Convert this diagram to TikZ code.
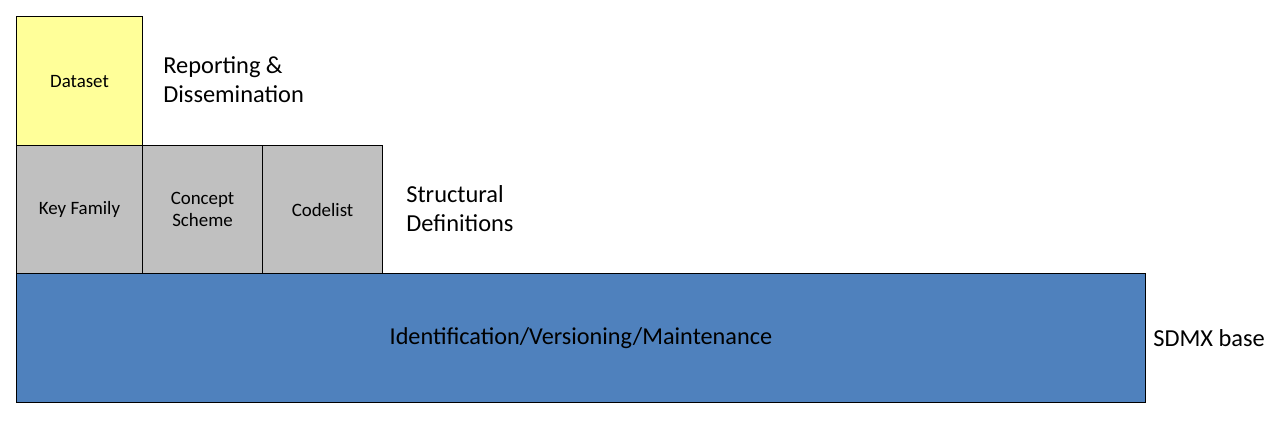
\documentclass[tikz,border=0pt]{standalone}
\usepackage{fontspec}
\setmainfont{Carlito}
\usetikzlibrary{positioning}
\definecolor{dsyellow}{HTML}{FFFF99}
\definecolor{defgray}{HTML}{C0C0C0}
\definecolor{baseblue}{HTML}{4F81BD}

\begin{document}
\begin{tikzpicture}[x=0.02cm, y=-0.02cm,
  box/.style={draw=black, line width=0.6pt, inner sep=0pt, anchor=north west,
    align=center, font=\fontsize{10.75}{12.7}\selectfont},
  layer/.style={anchor=west, align=left, inner sep=0pt,
    font=\fontsize{13.9}{16.4}\selectfont}]
  \useasboundingbox (0,0) rectangle (1277,424);
  %%%%% START %%%%%
  \node[box, fill=baseblue, minimum width=22.58cm, minimum height=2.58cm,
    font=\fontsize{13.8}{16}\selectfont] (base) at (16,273) {Identification/Versioning/Maintenance};

  \node[box, fill=defgray, minimum width=2.52cm, minimum height=2.56cm] (keyfam) at (16,145) {Key Family};
  \node[box, fill=defgray, minimum width=2.4cm, minimum height=2.56cm] (concept) at (142,145) {Concept\\Scheme};
  \node[box, fill=defgray, minimum width=2.4cm, minimum height=2.56cm] (codelist) at (262,145) {Codelist};

  \node[box, fill=dsyellow, minimum width=2.52cm, minimum height=2.58cm] (dataset) at (16,16) {Dataset};

  \node[layer] (report) at (163,80) {Reporting \&\\Dissemination};
  \node[layer] (struct) at (406,209) {Structural\\Definitions};
  \node[layer] (sdmx) at (1153,338) {SDMX base};
  %%%%% END %%%%%
\end{tikzpicture}
\end{document}
